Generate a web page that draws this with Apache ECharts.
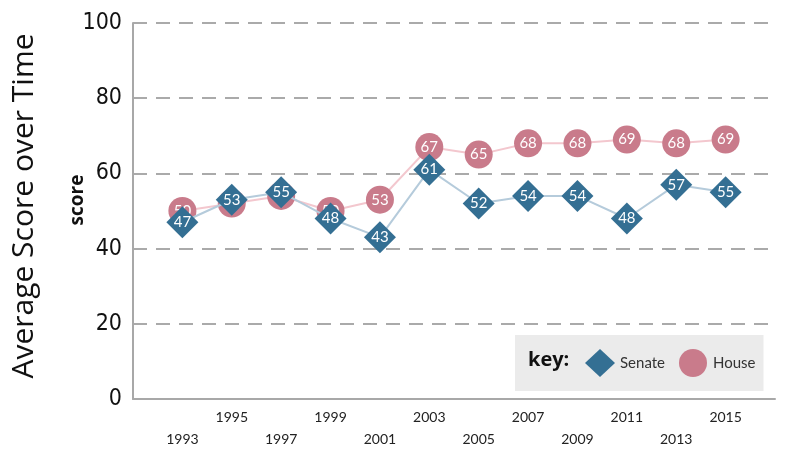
<!DOCTYPE html>
<html>
<head>
<meta charset="utf-8">
<script src="https://cdn.jsdelivr.net/npm/echarts@6/dist/echarts.min.js"></script>
<style>html,body{margin:0;padding:0;background:#fff;}#c{width:789px;height:450px;}</style>
</head>
<body>
<div id="c"></div>
<script>
const years = ['1993','1995','1997','1999','2001','2003','2005','2007','2009','2011','2013','2015'];
const senate = [47, 53, 55, 48, 43, 61, 52, 54, 54, 48, 57, 55];
const house = [50, 52, 54, 50, 53, 67, 65, 68, 68, 69, 68, 69];
const yTicks = [0, 20, 40, 60, 80, 100];

const chart = echarts.init(document.getElementById('c'));
const toPts = arr => arr.map((v, i) => [i, v]);

chart.setOption({
  animation: false,
  backgroundColor: '#fff',
  grid: { left: 133, right: 14, top: 23, bottom: 50 },
  xAxis: {
    type: 'value', min: -1, max: years.length, interval: 1,
    axisLine: { show: true, onZero: false, lineStyle: { color: '#a8a8a8', width: 2 } },
    axisTick: { show: false },
    splitLine: { show: false },
    axisLabel: {
      margin: 7,
      fontFamily: 'Lato, "Noto Sans", sans-serif',
      fontSize: 14, color: '#222', lineHeight: 22,
      formatter: v => {
        const i = Math.round(v);
        if (i < 0 || i >= years.length) return '';
        return i % 2 === 0 ? ' \n' + years[i] : years[i] + '\n ';
      }
    }
  },
  yAxis: {
    type: 'value', min: 0, max: 100, interval: 20,
    name: 'score', nameLocation: 'middle', nameGap: 46, nameRotate: 90,
    nameMoveOverlap: false,
    nameTextStyle: { fontFamily: '"Open Sans", "Noto Sans", sans-serif', fontSize: 19, fontWeight: 'bold', color: '#111', padding: [0, 0, 0, 22] },
    axisLine: { show: true, onZero: false, lineStyle: { color: '#a8a8a8', width: 2 } },
    axisTick: { show: false },
    axisLabel: {
      margin: 11,
      fontFamily: '"DejaVu Sans Condensed", "Liberation Sans Narrow", sans-serif',
      fontSize: 23, color: '#111',
      formatter: v => yTicks.indexOf(v) >= 0 ? String(v) : ''
    },
    splitLine: { show: true, lineStyle: { color: '#aaaaaa', width: 2, type: [14, 9] } }
  },
  legend: {
    left: 515, top: 335,
    backgroundColor: '#ebebeb',
    padding: [14, 8, 14, 70],
    itemWidth: 30, itemHeight: 28, itemGap: 14,
    selectedMode: false,
    textStyle: { fontFamily: 'Lato, "Noto Sans", sans-serif', fontSize: 15, color: '#333' },
    data: [{ name: 'Senate', icon: 'diamond' }, { name: 'House', icon: 'circle' }]
  },
  graphic: [
    {
      type: 'text', left: 528, top: 350,
      style: { text: 'key:', font: 'bold 20px "Open Sans", "Noto Sans", sans-serif', fill: '#111' }, z: 100
    },
    {
      type: 'text', x: 24, y: 206, rotation: Math.PI / 2,
      style: { text: 'Average Score over Time', font: '500 30px "Open Sans", "Noto Sans", sans-serif', fill: '#111', align: 'center', verticalAlign: 'middle' }
    }
  ],
  series: [
    {
      name: 'House', type: 'line', data: toPts(house),
      symbol: 'circle', symbolSize: 28,
      itemStyle: { color: '#c97b8b' },
      lineStyle: { color: '#f3c7ce', width: 2 },
      label: { show: true, position: 'inside', color: '#fff', fontSize: 15, fontFamily: 'Lato, "Noto Sans", sans-serif', formatter: p => p.value[1] },
      z: 2
    },
    {
      name: 'Senate', type: 'line', data: toPts(senate),
      symbol: 'diamond', symbolSize: 32,
      itemStyle: { color: '#346f93' },
      lineStyle: { color: '#b5cbdb', width: 2 },
      label: { show: true, position: 'inside', color: '#fff', fontSize: 15, fontFamily: 'Lato, "Noto Sans", sans-serif', formatter: p => p.value[1] },
      z: 3
    }
  ]
});
</script>
</body>
</html>
